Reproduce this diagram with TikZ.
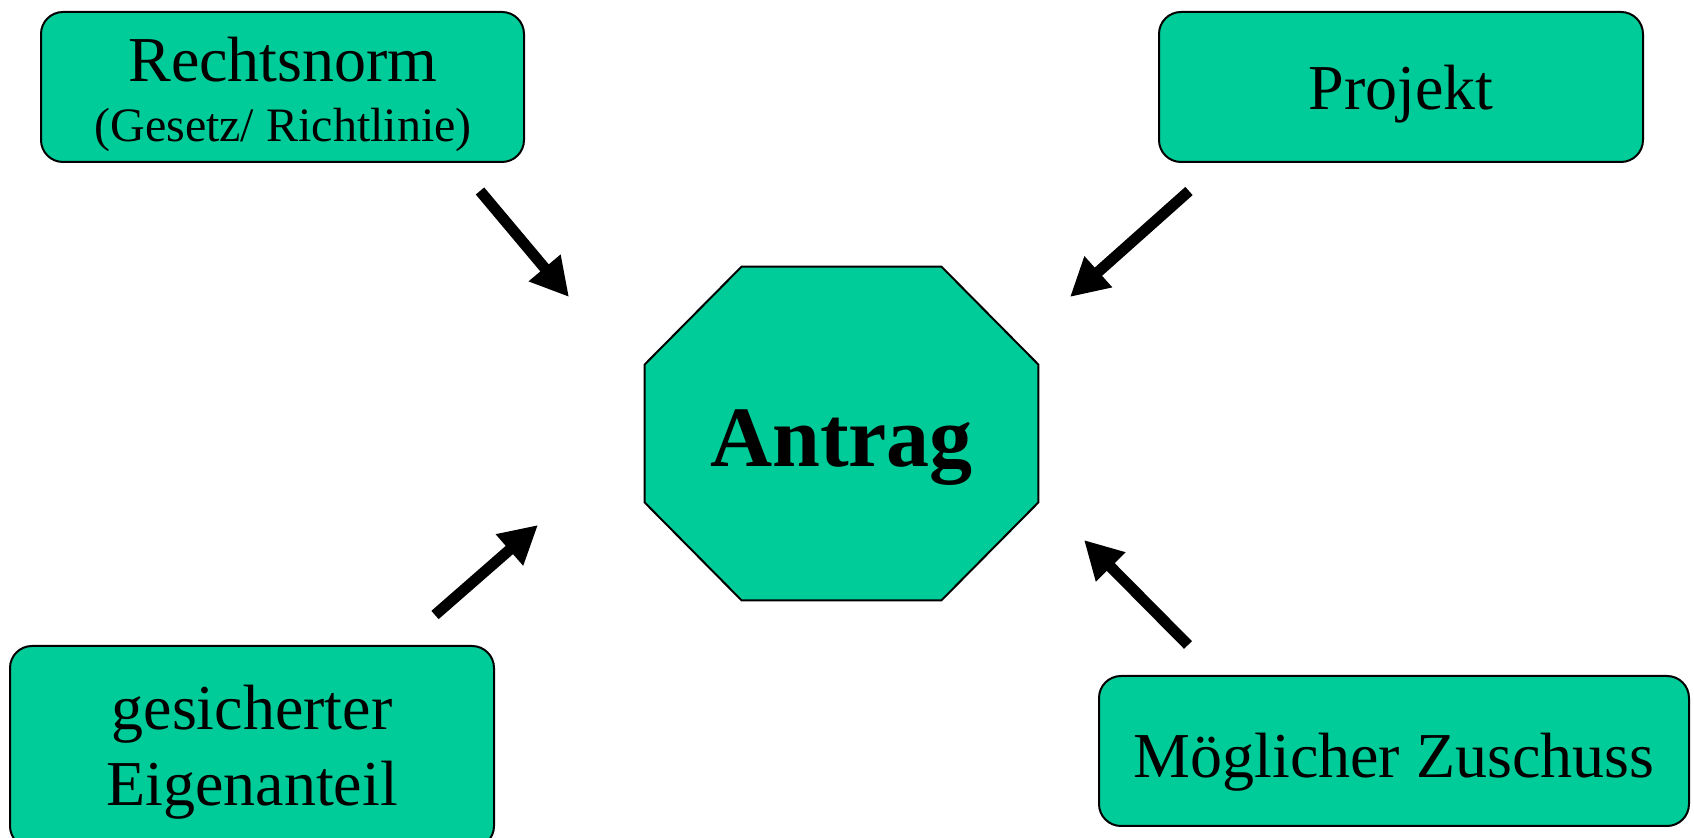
\documentclass[tikz,border=0pt]{standalone}
\usepackage{fontspec}
\setmainfont{Liberation Serif}
\usetikzlibrary{arrows.meta}
\definecolor{boxgreen}{HTML}{00CC99}
\tikzset{
  greenbox/.style={draw=black, line width=1pt, fill=boxgreen, rounded corners=11pt, inner sep=0pt},
  bigtxt/.style={font=\fontsize{32}{38}\selectfont, inner sep=0pt, anchor=base},
  smalltxt/.style={font=\fontsize{24}{29}\selectfont, inner sep=0pt, anchor=base},
  fatarrow/.style={line width=5.5pt, -{Triangle[length=19pt,width=19.5pt]}},
  octoline/.style={draw=black, line width=1pt, fill=boxgreen}
}
\begin{document}
\begin{tikzpicture}[x=0.5pt,y=-0.5pt]
\useasboundingbox (0,0) rectangle (1694,838);
% boxes
\node[greenbox, minimum width=241.5pt, minimum height=75pt] (rn) at (282.5,87) {};
\node[greenbox, minimum width=242pt, minimum height=75pt] (pj) at (1401,87) {};
\node[greenbox, minimum width=242pt, minimum height=101pt] (ge) at (252,747) {};
\node[greenbox, minimum width=295pt, minimum height=75pt] (mz) at (1394,751) {};
% octagon frame
\node[rectangle, inner sep=0pt, minimum width=196.5pt, minimum height=166.5pt] (an) at (841.5,433.5) {};
\path[octoline] ([xshift=48.5pt]an.north west) -- ([xshift=-48.5pt]an.north east)
  -- ([yshift=-49pt]an.north east) -- ([yshift=49pt]an.south east)
  -- ([xshift=-48.5pt]an.south east) -- ([xshift=48.5pt]an.south west)
  -- ([yshift=49pt]an.south west) -- ([yshift=-49pt]an.north west) -- cycle;
\node[font=\fontsize{43}{50}\selectfont\bfseries, inner sep=0pt, anchor=base] (ant) at (841.5,467) {Antrag};
% texts
\node[bigtxt] (rnt) at (283,82) {Rechtsnorm};
\node[smalltxt] (rns) at (283,142) {(Gesetz/ Richtlinie)};
\node[bigtxt] (pjt) at (1401,110) {Projekt};
\node[bigtxt] (get1) at (252,730) {gesicherter};
\node[bigtxt] (get2) at (252,806) {Eigenanteil};
\node[bigtxt] (mzt) at (1394,778) {Möglicher Zuschuss};
% arrows
\coordinate (a1s) at (480,191); \coordinate (a1e) at (569,297);
\coordinate (a2s) at (1189,191); \coordinate (a2e) at (1070,297);
\coordinate (a3s) at (435,615); \coordinate (a3e) at (538,525);
\coordinate (a4s) at (1188,645); \coordinate (a4e) at (1084,540);
\draw[fatarrow] (a1s) -- (a1e);
\draw[fatarrow] (a2s) -- (a2e);
\draw[fatarrow] (a3s) -- (a3e);
\draw[fatarrow] (a4s) -- (a4e);
\end{tikzpicture}
\end{document}
